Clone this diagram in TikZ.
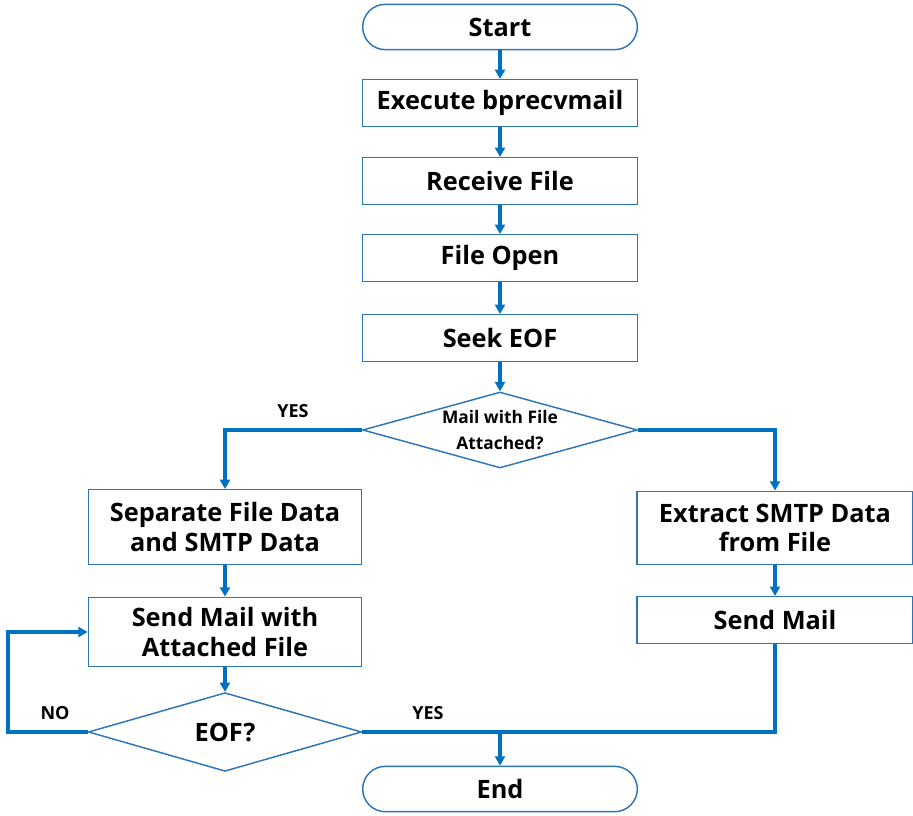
\documentclass[tikz,border=0pt]{standalone}
\usepackage{fontspec}
\setmainfont{Open Sans}
\usepackage{tikz}
\usetikzlibrary{arrows.meta,shapes.geometric}
\definecolor{lineblue}{RGB}{0,112,192}
\definecolor{boxblue}{RGB}{46,117,182}
\tikzset{
  procbox/.style={draw=boxblue,line width=1.1pt,rectangle,align=center,
    font=\bfseries\fontsize{19}{22}\selectfont,inner sep=0pt},
  termbox/.style={procbox,rounded corners=17pt},
  decbox/.style={draw=boxblue,line width=1.1pt,diamond,aspect=3.6,align=center,inner sep=0pt},
  flow/.style={draw=lineblue,line width=2.6pt,-{Triangle[length=7pt,width=7.5pt]}},
  flowline/.style={draw=lineblue,line width=2.6pt},
  tag/.style={font=\bfseries\fontsize{13.5}{16}\selectfont}
}
\begin{document}
\begin{tikzpicture}[x=0.75pt,y=-0.75pt]
\useasboundingbox (0,0) rectangle (913,816);
% main column
\node[termbox,minimum width=206pt,minimum height=34pt] (start) at (500,27) {Start};
\node[procbox,minimum width=206pt,minimum height=35pt] (exec) at (500,103) {Execute bprecvmail};
\node[procbox,minimum width=206pt,minimum height=35pt] (recv) at (500,181) {Receive File};
\node[procbox,minimum width=206pt,minimum height=35pt] (fopen) at (500,258) {File Open};
\node[procbox,minimum width=206pt,minimum height=35pt] (seek) at (500,338) {Seek EOF};
\node[decbox,minimum width=206pt,minimum height=57pt,
      font=\bfseries\fontsize{13}{19}\selectfont] (attq) at (500,430) {Mail with File\\Attached?};
% left branch
\node[procbox,minimum width=205pt,minimum height=56pt] (sep) at (225,527) {Separate File Data\\and SMTP Data};
\node[procbox,minimum width=205pt,minimum height=52pt] (sendatt) at (225,632) {Send Mail with\\Attached File};
\node[decbox,minimum width=205pt,minimum height=59pt,
      font=\bfseries\fontsize{19}{22}\selectfont] (eofq) at (225,732) {EOF?};
% right branch
\node[procbox,minimum width=207pt,minimum height=55pt] (extract) at (775,528) {Extract SMTP Data\\from File};
\node[procbox,minimum width=207pt,minimum height=35pt] (send) at (775,620) {Send Mail};
\node[termbox,minimum width=206pt,minimum height=34pt] (stop) at (500,789) {End};
% labels
\node[tag] (yes1) at (293,411) {YES};
\node[tag] (no) at (55,713) {NO};
\node[tag] (yes2) at (428,713) {YES};
% connectors
\draw[flow] (start) -- (exec);
\draw[flow] (exec) -- (recv);
\draw[flow] (recv) -- (fopen);
\draw[flow] (fopen) -- (seek);
\draw[flow] (seek) -- (attq);
\draw[flow] (attq.west) -| (sep.north);
\draw[flow] (attq.east) -| (extract.north);
\draw[flow] (sep) -- (sendatt);
\draw[flow] (sendatt) -- (eofq);
\draw[flow] (extract) -- (send);
\coordinate (loop) at (8,732);
\draw[flow] (eofq.west) -- (loop) |- (sendatt.west);
\coordinate (join) at (stop.north |- eofq.east);
\draw[flowline] (eofq.east) -| (send.south);
\draw[flow] (join) -- (stop.north);
\end{tikzpicture}
\end{document}
